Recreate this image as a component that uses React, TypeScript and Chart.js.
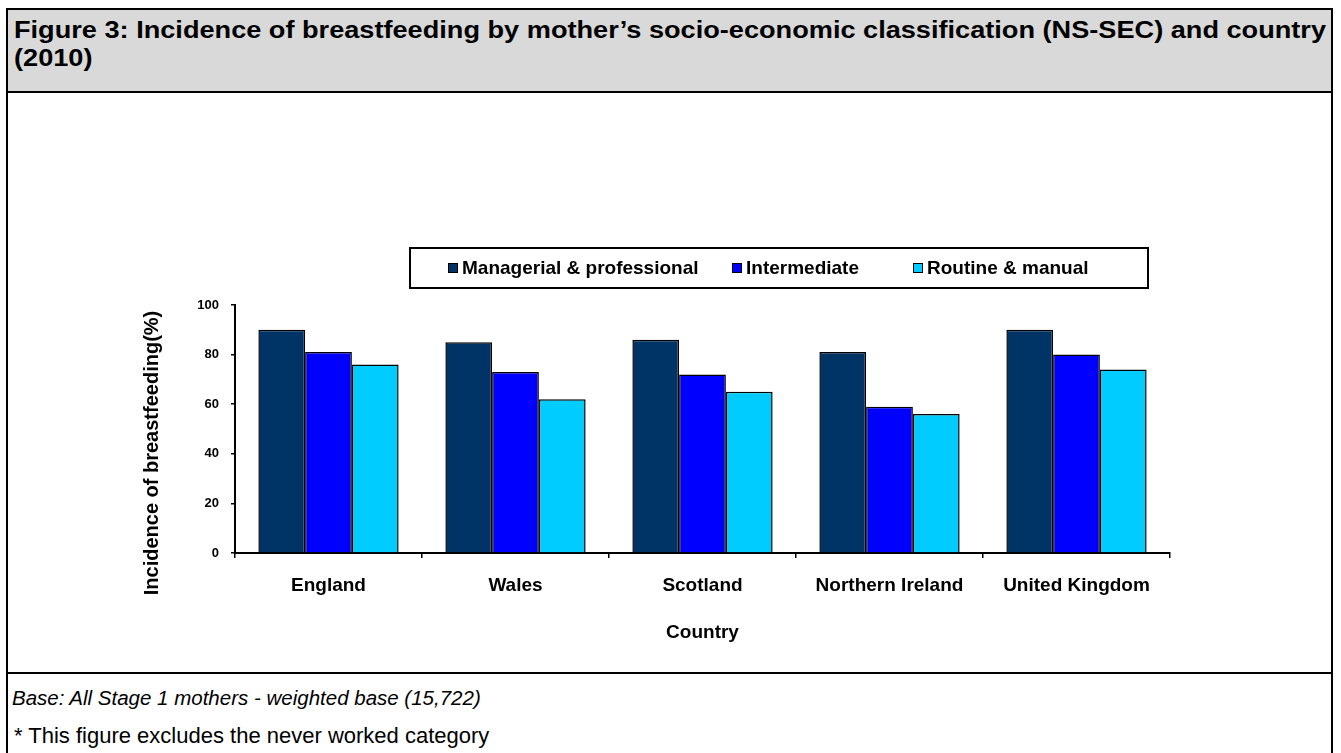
import React, { useEffect, useRef } from "react";
import { Chart, registerables } from "chart.js";

Chart.register(...registerables);

const categories = ["England", "Wales", "Scotland", "Northern Ireland", "United Kingdom"];
const seriesLabels = ["Managerial & professional", "Intermediate", "Routine & manual"];
const managerial = [90, 85, 86, 81, 90];
const intermediate = [81, 73, 72, 59, 80];
const routine = [76, 62, 65, 56, 74];
const seriesColors = ["#003366", "#0000FF", "#00CCFF"];
const yMin = 0;
const yMax = 100;
const yStep = 20;

const FONT = "'Liberation Sans', Arial, sans-serif";

const legendPlugin = {
  id: "boxLegend",
  afterDraw(chart: any) {
    const { ctx, chartArea } = chart;
    const left = chartArea.left + 175;
    const top = chartArea.top - 57;
    const w = 738;
    const h = 40;
    ctx.save();
    ctx.fillStyle = "#ffffff";
    ctx.fillRect(left, top, w, h);
    ctx.strokeStyle = "#000";
    ctx.lineWidth = 2;
    ctx.strokeRect(left, top, w, h);
    const offsets = [38, 322, 503];
    ctx.font = `bold 19px ${FONT}`;
    ctx.textBaseline = "middle";
    ctx.textAlign = "left";
    chart.data.datasets.forEach((ds: any, i: number) => {
      const x = left + offsets[i];
      const cy = top + h / 2;
      ctx.fillStyle = ds.backgroundColor;
      ctx.fillRect(x, cy - 5, 10, 10);
      ctx.lineWidth = 1;
      ctx.strokeStyle = "#000";
      ctx.strokeRect(x + 0.5, cy - 4.5, 9, 9);
      ctx.fillStyle = "#000";
      ctx.fillText(ds.label, x + 14, cy + 1);
    });
    ctx.restore();
  },
};

const yTitlePlugin = {
  id: "yTitle",
  afterDraw(chart: any) {
    const { ctx, chartArea } = chart;
    ctx.save();
    ctx.translate(chartArea.left - 82.5, chartArea.bottom - 100);
    ctx.rotate(-Math.PI / 2);
    ctx.font = `bold 20px ${FONT}`;
    ctx.fillStyle = "#000";
    ctx.textAlign = "center";
    ctx.textBaseline = "middle";
    ctx.fillText("Incidence of breastfeeding(%)", 0, 0);
    ctx.restore();
  },
};

function ChartBox() {
  const ref = useRef<HTMLCanvasElement | null>(null);
  useEffect(() => {
    if (!ref.current) return;
    const chart = new Chart(ref.current, {
      type: "bar",
      data: {
        labels: categories,
        datasets: [managerial, intermediate, routine].map((d, i) => ({
          label: seriesLabels[i],
          data: d,
          backgroundColor: seriesColors[i],
          borderColor: "#000",
          borderWidth: 1.5,
          categoryPercentage: 0.75,
          barPercentage: 1,
        })),
      },
      options: {
        responsive: false,
        animation: false,
        layout: { padding: { left: 0, right: 161, top: 210, bottom: 19 } },
        plugins: {
          legend: { display: false },
          tooltip: { enabled: false },
          title: { display: false },
        },
        scales: {
          x: {
            afterFit: (s: any) => {
              s.height = 100;
            },
            border: { display: true, color: "#000", width: 2 },
            grid: {
              offset: true,
              drawOnChartArea: false,
              drawTicks: true,
              tickLength: 5,
              color: "#000",
              lineWidth: 1.5,
            },
            ticks: {
              color: "#000",
              padding: 16,
              font: { family: FONT, size: 19, weight: "bold" },
              maxRotation: 0,
            },
            title: {
              display: true,
              text: "Country",
              color: "#000",
              font: { family: FONT, size: 19, weight: "bold" },
              padding: { top: 0, bottom: 9 },
            },
          },
          y: {
            min: yMin,
            max: yMax,
            afterFit: (s: any) => {
              s.width = 227;
            },
            border: { display: true, color: "#000", width: 2 },
            grid: {
              drawOnChartArea: false,
              drawTicks: true,
              tickLength: 4,
              color: "#000",
              lineWidth: 1.5,
            },
            ticks: {
              stepSize: yStep,
              color: "#000",
              padding: 12,
              font: { family: FONT, size: 13, weight: "bold" },
            },
          },
        },
      },
      plugins: [legendPlugin, yTitlePlugin],
    });
    return () => chart.destroy();
  }, []);
  return (
    <canvas
      ref={ref}
      width={1323}
      height={577}
      style={{ position: "absolute", left: 8, top: 95, width: 1323, height: 577 }}
    />
  );
}

export default function App() {
  const stretch = {
    display: "inline-block",
    transform: "scaleX(1.18)",
    transformOrigin: "left center",
  } as const;
  return (
    <div
      style={{
        position: "absolute",
        left: 0,
        top: 0,
        width: 1341,
        height: 753,
        background: "#fff",
        fontFamily: FONT,
        overflow: "hidden",
      }}
    >
      <div
        style={{
          position: "absolute",
          left: 6,
          top: 8,
          width: 1327,
          height: 85,
          boxSizing: "border-box",
          border: "2px solid #000",
          background: "#d9d9d9",
          padding: "6px 0 0 6px",
          fontWeight: "bold",
          fontSize: 23,
          lineHeight: "28px",
          whiteSpace: "nowrap",
          color: "#000",
          overflow: "hidden",
        }}
      >
        <span style={stretch}>
          Figure 3: Incidence of breastfeeding by mother’s socio-economic classification (NS-SEC) and country
        </span>
        <br />
        <span style={stretch}>(2010)</span>
      </div>
      <div
        style={{
          position: "absolute",
          left: 6,
          top: 93,
          width: 1327,
          height: 581,
          boxSizing: "border-box",
          borderLeft: "2px solid #000",
          borderRight: "2px solid #000",
          borderBottom: "2px solid #000",
        }}
      />
      <ChartBox />
      <div
        style={{
          position: "absolute",
          left: 6,
          top: 674,
          width: 1327,
          height: 79,
          boxSizing: "border-box",
          borderLeft: "2px solid #000",
          borderRight: "2px solid #000",
          color: "#000",
          whiteSpace: "nowrap",
        }}
      >
        <div style={{ position: "absolute", left: 4, top: 13, fontSize: 20.5, lineHeight: "22px", fontStyle: "italic" }}>
          Base: All Stage 1 mothers - weighted base (15,722)
        </div>
        <div style={{ position: "absolute", left: 6, top: 51, fontSize: 22, lineHeight: "22px" }}>
          * This figure excludes the never worked category
        </div>
      </div>
    </div>
  );
}
